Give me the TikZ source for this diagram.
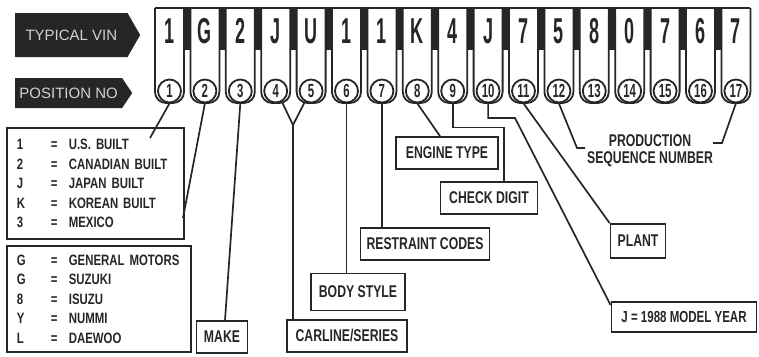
\documentclass[tikz,border=0pt]{standalone}
\usepackage{fontspec}
\newfontfamily\vinfont[FakeStretch=0.5]{Liberation Sans Bold}
\newfontfamily\lblfont[FakeStretch=0.76]{Liberation Sans Bold}
\newfontfamily\boxfont[FakeStretch=0.72]{Liberation Sans Bold}
\newfontfamily\numfont[FakeStretch=0.6]{Liberation Sans Bold}
\newfontfamily\tagfont{Liberation Sans}
\usetikzlibrary{positioning, shapes.symbols}
\definecolor{ink}{HTML}{262626}
% one row of a legend box: code, equals sign, meaning
\newcommand\vinrow[2]{\makebox[34pt][l]{#1}\makebox[18pt][l]{=}\mbox{#2}}

\begin{document}
\begin{tikzpicture}[
    x=1pt, y=-1pt,
    key/.style={draw=ink, line width=1.8pt, fill=white, rounded corners=11pt},
    posn/.style={circle, draw=ink, line width=1.8pt, fill=white, minimum size=23pt, inner sep=0pt, text=ink, font=\numfont\fontsize{19}{19}\selectfont},
    char/.style={inner sep=0pt, text=ink, font=\vinfont\fontsize{36}{36}\selectfont},
    tag/.style={signal, signal to=east, fill=ink, text=gray!35, anchor=west, font=\tagfont\fontsize{15}{15}\selectfont},
    lbl/.style={draw=ink, line width=1.7pt, minimum height=32pt, inner xsep=5pt, text=ink, font=\boxfont\fontsize{17}{19}\selectfont},
    legend/.style={draw=ink, line width=1.7pt, anchor=north west, align=left, inner xsep=10pt, text=ink, font=\lblfont\fontsize{15}{19.5}\selectfont},
    wire/.style={draw=ink, line width=1.7pt}
  ]
  \useasboundingbox (0,0) rectangle (759,356);

  % the seventeen keys of the number
  \foreach \i in {1,...,17} {
    \pgfmathsetmacro\cx{169.5+35.4*(\i-1)}
    \draw[key] (\cx-14.5,8) -- (\cx-14.5,103) -- (\cx+14.5,103) -- (\cx+14.5,8);
  }
  \foreach \i in {1,...,16} {
    \pgfmathsetmacro\cx{169.5+35.4*(\i-1)}
    \fill[ink] (\cx+14.5,8) rectangle (\cx+20.9,50);
  }
  \draw[ink, line width=1.8pt] (155,8) -- (750.4,8);
  \foreach \i/\ch in {1/1,2/G,3/2,4/J,5/U,6/1,7/1,8/K,9/4,10/J,11/7,12/5,13/8,14/0,15/7,16/6,17/7} {
    \pgfmathsetmacro\cx{169.5+35.4*(\i-1)}
    \node[char] (v\i) at (\cx,31) {\ch};
    \node[posn] (p\i) at (\cx,91) {\i};
  }

  \node[tag, minimum width=125pt, minimum height=44pt, signal pointer angle=120] (vin) at (15,35) {TYPICAL VIN};
  \node[tag, minimum width=117pt, minimum height=30pt, signal pointer angle=112] (pos) at (15,93) {POSITION NO};

  % legend boxes
  \node[legend, text width=157pt, minimum height=111pt] (origin) at (6,127) {\vinrow{1}{U.S. BUILT}\\\vinrow{2}{CANADIAN BUILT}\\\vinrow{J}{JAPAN BUILT}\\\vinrow{K}{KOREAN BUILT}\\\vinrow{3}{MEXICO}};
  \node[legend, text width=164pt, minimum height=106pt] (maker) at (6,245) {\vinrow{G}{GENERAL MOTORS}\\\vinrow{G}{SUZUKI}\\\vinrow{8}{ISUZU}\\\vinrow{Y}{NUMMI}\\\vinrow{L}{DAEWOO}};

  \node[lbl, minimum width=51pt] (make) at (222,337) {MAKE};
  \node[lbl, minimum width=120pt] (carline) at (347,336) {CARLINE/SERIES};
  \node[lbl, minimum width=94pt, minimum height=37pt] (body) at (358,292) {BODY STYLE};
  \node[lbl, minimum width=129pt] (restraint) at (425,244) {RESTRAINT CODES};
  \node[lbl, minimum width=102pt] (engine) at (447,153) {ENGINE TYPE};
  \node[lbl, minimum width=97pt] (check) at (489,198) {CHECK DIGIT};
  \node[lbl, minimum width=55pt, minimum height=34pt] (plant) at (638,241) {PLANT};
  \node[lbl, minimum width=145pt, minimum height=30pt, inner xsep=3pt, font=\boxfont\fontsize{16}{18}\selectfont] (year) at (684,317) {J = 1988 MODEL YEAR};
  \node[text=ink, align=center, font=\boxfont\fontsize{17}{17}\selectfont] (seq) at (650,151) {PRODUCTION\\SEQUENCE NUMBER};

  % connectors
  \coordinate (o1) at (150,138);
  \coordinate (o2) at (183,218);
  \coordinate (fork) at (293,125);
  \coordinate (bend) at (515,118);
  \coordinate (seqL) at (577,148);
  \coordinate (seqR) at (722,143);
  \draw[wire] (p1.south) -- (o1);
  \draw[wire] (p2.south) -- (o2);
  \draw[wire] (p3.south) -- ([xshift=3pt]make.north);
  \draw[wire] (p4.-60) -- (fork) -- (p5.-120);
  \draw[wire] (fork) -- (fork |- carline.north);
  \draw[wire] (p6.south) -- (p6.south |- body.north);
  \draw[wire] (p7.south) -- (p7.south |- restraint.north);
  \draw[wire] (p8.south) -- ([xshift=-7pt]engine.north);
  \draw[wire] (p9.south) -- ++(0,24) -| ([xshift=15pt]check.north);
  \draw[wire] (p10.south) |- (bend) -- ([yshift=-4pt]year.north west);
  \draw[wire] (p11.south) -- (plant.north west);
  \draw[wire] (p12.south) -- (seqL) -- ++(8,0);
  \draw[wire] (p17.south) -- (seqR) -- ++(-9,0);
\end{tikzpicture}
\end{document}
